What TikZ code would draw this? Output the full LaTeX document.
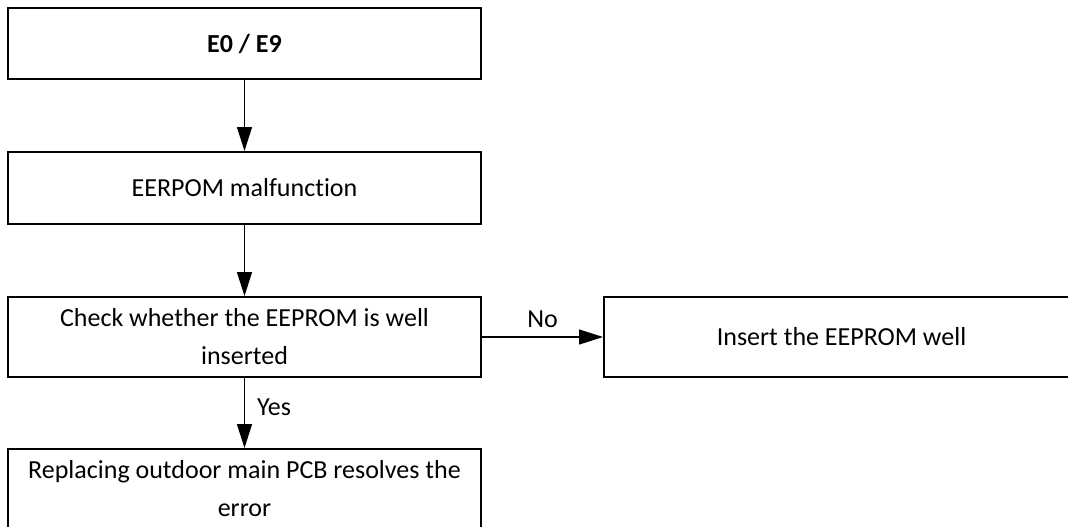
\documentclass[tikz,border=0pt]{standalone}
\usepackage{fontspec}
\setmainfont{Carlito}[Ligatures=CommonOff]
\usetikzlibrary{arrows.meta}
\tikzset{
  box/.style={draw=black, line width=2pt, rectangle, minimum width=473pt, inner sep=0pt, align=center, font=\fontsize{26}{38}\selectfont},
  conn/.style={draw=black, line width=1.3pt, -{Triangle[length=24pt,width=15pt]}},
  lbl/.style={inner sep=0pt, font=\fontsize{26}{38}\selectfont}
}
\begin{document}
\begin{tikzpicture}[x=1pt, y=-1pt]
\useasboundingbox (0,0) rectangle (1068,527);
\fill[white] (0,0) rectangle (1068,527);
\node[box, minimum height=71pt] (b1) at (244.5,43.5) {\bfseries E0 / E9};
\node[box, minimum height=72pt] (b2) at (244.5,188) {EERPOM malfunction};
\node[box, minimum height=80pt] (b3) at (244.5,337) {Check whether the EEPROM is well\\inserted};
\node[box, minimum height=80pt, minimum width=475pt] (b4) at (841.5,337) {Insert the EEPROM well};
\node[box, minimum height=80pt] (b5) at (244.5,489) {Replacing outdoor main PCB resolves the\\error};
\draw[conn] (b1) -- (b2);
\draw[conn] (b2) -- (b3);
\draw[conn] (b3) -- node[lbl, midway, anchor=base, yshift=10pt] (no) {No} (b4);
\draw[conn] (b3) -- node[lbl, midway, anchor=base west, xshift=12pt, yshift=-2pt] (yes) {Yes} (b5);
\end{tikzpicture}
\end{document}
